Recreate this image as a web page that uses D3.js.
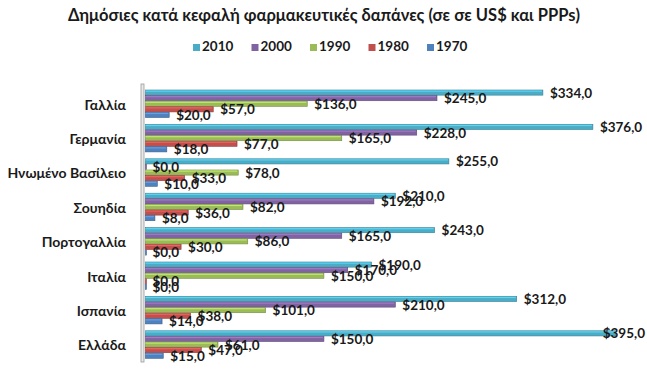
<!DOCTYPE html>
<html>
<head>
<meta charset="utf-8">
<script src="https://cdn.jsdelivr.net/npm/d3@7"></script>
<style>
  body { margin: 0; background: #fff; }
  text { font-family: Lato, "Open Sans", sans-serif; font-weight: bold; }
</style>
</head>
<body>
<div id="chart"></div>
<script>
// data
var countries = ["Γαλλία", "Γερμανία", "Ηνωμένο Βασίλειο", "Σουηδία", "Πορτογαλλία", "Ιταλία", "Ισπανία", "Ελλάδα"];
var years = ["2010", "2000", "1990", "1980", "1970"];
var v2010 = [334, 376, 255, 210, 243, 190, 312, 395];
var v2000 = [245, 228, 0, 192, 165, 170, 210, 150];
var v1990 = [136, 165, 78, 82, 86, 150, 101, 61];
var v1980 = [57, 77, 33, 36, 30, 0, 38, 47];
var v1970 = [20, 18, 10, 8, 0, 0, 14, 15];
var colors = ["#4BACC6", "#8064A2", "#9BBB59", "#C0504D", "#4F81BD"];

var svgWidth = 647;
var svgHeight = 371;

var series = [v2010, v2000, v1990, v1980, v1970];
var rows = [];
countries.forEach(function(c, i) {
  years.forEach(function(y, j) {
    rows.push({country: c, year: y, value: series[j][i], k: j});
  });
});

var svg = d3.select("#chart")
  .append("svg")
  .attr("width", svgWidth)
  .attr("height", svgHeight);

// title
svg.append("text")
  .attr("x", 324)
  .attr("y", 21)
  .attr("text-anchor", "middle")
  .attr("font-size", "16.5px")
  .style("fill", "#1a1a1a")
  .text("Δημόσιες κατά κεφαλή φαρμακευτικές δαπάνες (σε σε US$ και PPPs)");

// legend
var legend = svg.append("g");
var legendX = d3.scalePoint().domain(years).range([193, 427]);
years.forEach(function(y, j) {
  var g = legend.append("g").attr("transform", `translate(${legendX(y)}, 48)`);
  g.append("rect")
    .attr("x", 0).attr("y", -4)
    .attr("width", 7).attr("height", 7)
    .attr("fill", colors[j]);
  g.append("text")
    .attr("x", 9).attr("y", 0)
    .attr("dominant-baseline", "middle")
    .attr("font-size", "13.5px")
    .style("fill", "#1a1a1a")
    .text(y);
});

// scales
var xScale = d3.scaleLinear().domain([0, 395]).range([145.4, 615.5]);
var y0 = d3.scaleBand().domain(countries).range([86, 361.2]).padding(0);
var y1 = d3.scaleBand().domain(years).range([4, 31.5]).paddingInner(0.08);

// axis wall
svg.append("rect")
  .attr("x", 141).attr("y", 84)
  .attr("width", 3).attr("height", 278)
  .attr("fill", "#e8e8e8")
  .attr("stroke", "#9a9a9a")
  .attr("stroke-width", 0.8);

var yAxis = d3.axisLeft(y0).tickSize(0).tickPadding(0);
var axisG = svg.append("g")
  .attr("transform", "translate(126, 0)")
  .call(yAxis);
axisG.select(".domain").remove();
axisG.selectAll("text")
  .attr("font-size", "14px")
  .attr("dy", "0.45em")
  .style("font-family", "Lato, sans-serif")
  .style("font-weight", "bold")
  .style("fill", "#1a1a1a");

// bars
var bars = svg.append("g").selectAll("g")
  .data(rows)
  .enter()
  .append("g")
  .attr("transform", d => `translate(0, ${y0(d.country) + y1(d.year)})`);

bars.append("rect")
  .attr("x", xScale(0))
  .attr("y", 0)
  .attr("width", d => Math.max(xScale(d.value) - xScale(0), 1))
  .attr("height", y1.bandwidth())
  .attr("fill", d => colors[d.k])
  .attr("stroke", d => d3.color(colors[d.k]).darker(0.8))
  .attr("stroke-width", 0.6);

bars.append("rect")
  .attr("x", xScale(0))
  .attr("y", 0.5)
  .attr("width", d => Math.max(xScale(d.value) - xScale(0) - 1, 0))
  .attr("height", 1.2)
  .attr("fill", d => d3.color(colors[d.k]).brighter(0.6));

// value labels
svg.append("g").selectAll("text")
  .data(rows)
  .enter()
  .append("text")
  .attr("x", d => xScale(d.value) + 7)
  .attr("y", d => y0(d.country) + y1(d.year) + y1.bandwidth() / 2 + 1.5)
  .attr("dominant-baseline", "middle")
  .attr("font-size", "13.5px")
  .style("fill", "#1a1a1a")
  .text(d => "$" + d.value.toFixed(1).replace(".", ","))
  .each(function() {
    // keep labels inside the picture, as the reference does for the widest bar
    var w = this.getComputedTextLength();
    var x = +d3.select(this).attr("x");
    if (x + w > svgWidth - 2) d3.select(this).attr("x", svgWidth - 2 - w);
  });
</script>
</body>
</html>
